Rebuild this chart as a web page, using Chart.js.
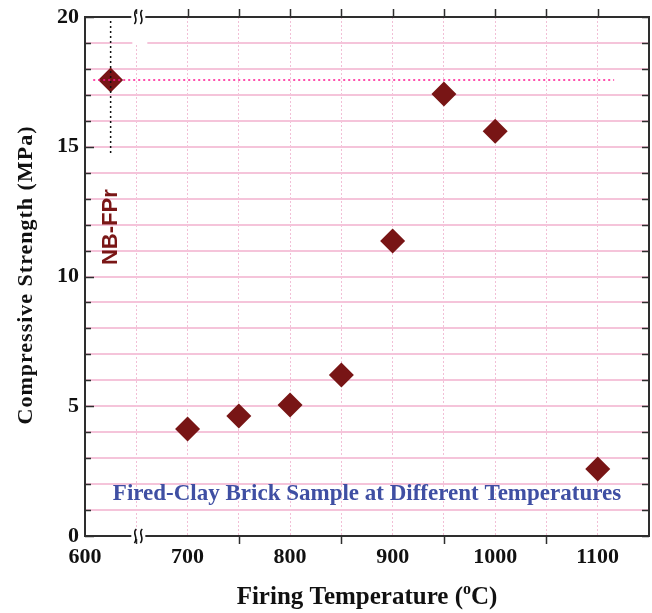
<!DOCTYPE html>
<html>
<head>
<meta charset="utf-8">
<script src="https://cdn.jsdelivr.net/npm/chart.js@4.4.0/dist/chart.umd.min.js"></script>
<style>
  html, body { margin: 0; padding: 0; background: #fff; }
  #wrap { width: 652px; height: 613px; }
</style>
</head>
<body>
<div id="wrap"><canvas id="strengthChart" width="652" height="613"></canvas></div>
<script>
// fired-clay brick data
const temps = [700, 750, 800, 850, 900, 950, 1000, 1100];
const strength = [4.12, 4.62, 5.05, 6.2, 11.37, 17.03, 15.6, 2.58];
const refTemp = [625];
const refStrength = [17.57];
const refLineX = [608, 1116];
const refVertY = [19.85, 14.7];

const xMin = 600, xMax = 1150, xStep = 50;
const yMin = 0, yMax = 20, yStep = 1;

const serif = "'Liberation Serif', 'Times New Roman', serif";
const pointColor = "#781515";
const frameColor = "#2e2e2e";

const ctx = document.getElementById("strengthChart").getContext("2d");

// frame, ticks, breaks and titles
const framePlugin = {
    id: "frame",
    beforeDatasetsDraw(chart) {
        const { ctx, chartArea: a } = chart;
        const xs = chart.scales.x;
        // gap in grid near the axis break
        ctx.save();
        ctx.fillStyle = "#fff";
        const bx = xs.getPixelForValue(652);
        ctx.fillRect(bx - 6, a.top + 1, 15, 26);
        ctx.restore();
    },
    afterDraw(chart) {
        const { ctx, chartArea: a } = chart;
        const xs = chart.scales.x, ys = chart.scales.y;
        ctx.save();
        ctx.strokeStyle = frameColor;
        ctx.lineWidth = 1.5;
        // x ticks
        for (let v = xMin + xStep; v < xMax; v += xStep) {
            const px = Math.round(xs.getPixelForValue(v)) + 0.5;
            ctx.beginPath();
            ctx.moveTo(px, a.top);
            ctx.lineTo(px, a.top - 8);
            if (v % 100 !== 0) {
                ctx.moveTo(px, a.bottom);
                ctx.lineTo(px, a.bottom + 8);
            }
            ctx.stroke();
        }
        // y ticks
        for (let v = yMin; v <= yMax; v += yStep) {
            const py = Math.round(ys.getPixelForValue(v)) + 0.5;
            const len = v % 5 === 0 ? 9 : 6;
            ctx.beginPath();
            ctx.moveTo(a.left, py);
            ctx.lineTo(a.left + len, py);
            ctx.moveTo(a.right, py);
            ctx.lineTo(a.right - 7, py);
            ctx.stroke();
        }
        ctx.lineWidth = 2;
        ctx.strokeRect(a.left, a.top, a.right - a.left, a.bottom - a.top);

        // axis breaks
        const bx = xs.getPixelForValue(652);
        [a.top, a.bottom].forEach(by => {
            ctx.fillStyle = "#fff";
            ctx.fillRect(bx - 7, by - 3, 14, 6);
            ctx.strokeStyle = "#111";
            ctx.lineWidth = 1.6;
            [-3, 3].forEach(off => {
                const cx = bx + off;
                ctx.beginPath();
                ctx.moveTo(cx + 1, by - 7);
                ctx.bezierCurveTo(cx - 4, by - 3, cx + 4, by + 2, cx - 1, by + 7);
                ctx.stroke();
            });
        });

        // x title with superscript
        ctx.fillStyle = "#111";
        ctx.textBaseline = "alphabetic";
        const tMain = "Firing Temperature (";
        const tSup = "o";
        const tEnd = "C)";
        const fBig = "bold 25px " + serif;
        const fSup = "bold 16px " + serif;
        ctx.font = fBig;
        const w1 = ctx.measureText(tMain).width;
        const w3 = ctx.measureText(tEnd).width;
        ctx.font = fSup;
        const w2 = ctx.measureText(tSup).width;
        const total = w1 + w2 + w3;
        let tx = 367 - total / 2;
        const ty = 604;
        ctx.font = fBig;
        ctx.textAlign = "left";
        ctx.fillText(tMain, tx, ty);
        ctx.font = fSup;
        ctx.fillText(tSup, tx + w1, ty - 10);
        ctx.font = fBig;
        ctx.fillText(tEnd, tx + w1 + w2, ty);

        // y title
        ctx.save();
        ctx.translate(32, 275);
        ctx.rotate(-Math.PI / 2);
        ctx.font = "bold 22px " + serif;
        ctx.textAlign = "center";
        ctx.letterSpacing = "1px";
        ctx.fillText("Compressive Strength (MPa)", 0, 0);
        ctx.restore();

        // annotations
        ctx.font = "bold 23px " + serif;
        ctx.fillStyle = "#3f4fa3";
        ctx.textAlign = "center";
        ctx.textBaseline = "middle";
        ctx.fillText("Fired-Clay Brick Sample at Different Temperatures",
            xs.getPixelForValue(875), ys.getPixelForValue(1.62));

        ctx.save();
        ctx.translate(xs.getPixelForValue(625), ys.getPixelForValue(11.9));
        ctx.rotate(-Math.PI / 2);
        ctx.font = "bold 22px 'Liberation Sans', Arial, sans-serif";
        ctx.fillStyle = "#7a1616";
        ctx.fillText("NB-FPr", 0, 0);
        ctx.restore();

        ctx.restore();
    }
};

new Chart(ctx, {
    type: "scatter",
    data: {
        datasets: [
            {
                label: "ref line",
                data: refLineX.map(x => ({ x, y: refStrength[0] })),
                showLine: true,
                borderColor: "#ff1493",
                borderWidth: 1.5,
                borderDash: [2, 3],
                pointRadius: 0
            },
            {
                label: "ref vertical",
                data: refVertY.map(y => ({ x: refTemp[0], y })),
                showLine: true,
                borderColor: "#111",
                borderWidth: 1.5,
                borderDash: [2, 3],
                pointRadius: 0
            },
            {
                label: "NB-FPr",
                data: refTemp.map((t, i) => ({ x: t, y: refStrength[i] })),
                pointStyle: "rectRot",
                pointRadius: 12.5,
                backgroundColor: pointColor,
                borderColor: pointColor,
                borderWidth: 0
            },
            {
                label: "Fired-clay brick",
                data: temps.map((t, i) => ({ x: t, y: strength[i] })),
                pointStyle: "rectRot",
                pointRadius: 12.5,
                backgroundColor: pointColor,
                borderColor: pointColor,
                borderWidth: 0
            }
        ]
    },
    options: {
        responsive: false,
        animation: false,
        layout: { autoPadding: false, padding: { top: 17, right: 3, left: 0, bottom: 0 } },
        plugins: { legend: { display: false }, tooltip: { enabled: false } },
        scales: {
            x: {
                type: "linear",
                min: xMin,
                max: xMax,
                afterFit: s => { s.height = 77; s.paddingLeft = 0; s.paddingRight = 0; },
                grid: { color: "#f2bfd6", lineWidth: 1, drawTicks: false },
                border: { display: false, dash: [2, 2] },
                ticks: {
                    stepSize: xStep,
                    autoSkip: false,
                    maxRotation: 0,
                    padding: 8,
                    color: "#111",
                    font: { family: serif, size: 22, weight: "bold" },
                    callback: v => (v % 100 === 0 && v < 1150 ? v : "")
                }
            },
            y: {
                min: yMin,
                max: yMax,
                afterFit: s => { s.width = 85; s.paddingTop = 0; s.paddingBottom = 0; },
                grid: { color: "#f5c4da", lineWidth: 2, drawTicks: false },
                border: { display: false },
                ticks: {
                    stepSize: yStep,
                    autoSkip: false,
                    padding: 6,
                    color: "#111",
                    font: { family: serif, size: 22, weight: "bold" },
                    callback: v => (v % 5 === 0 ? v : "")
                }
            }
        }
    },
    plugins: [framePlugin]
});
</script>
</body>
</html>
